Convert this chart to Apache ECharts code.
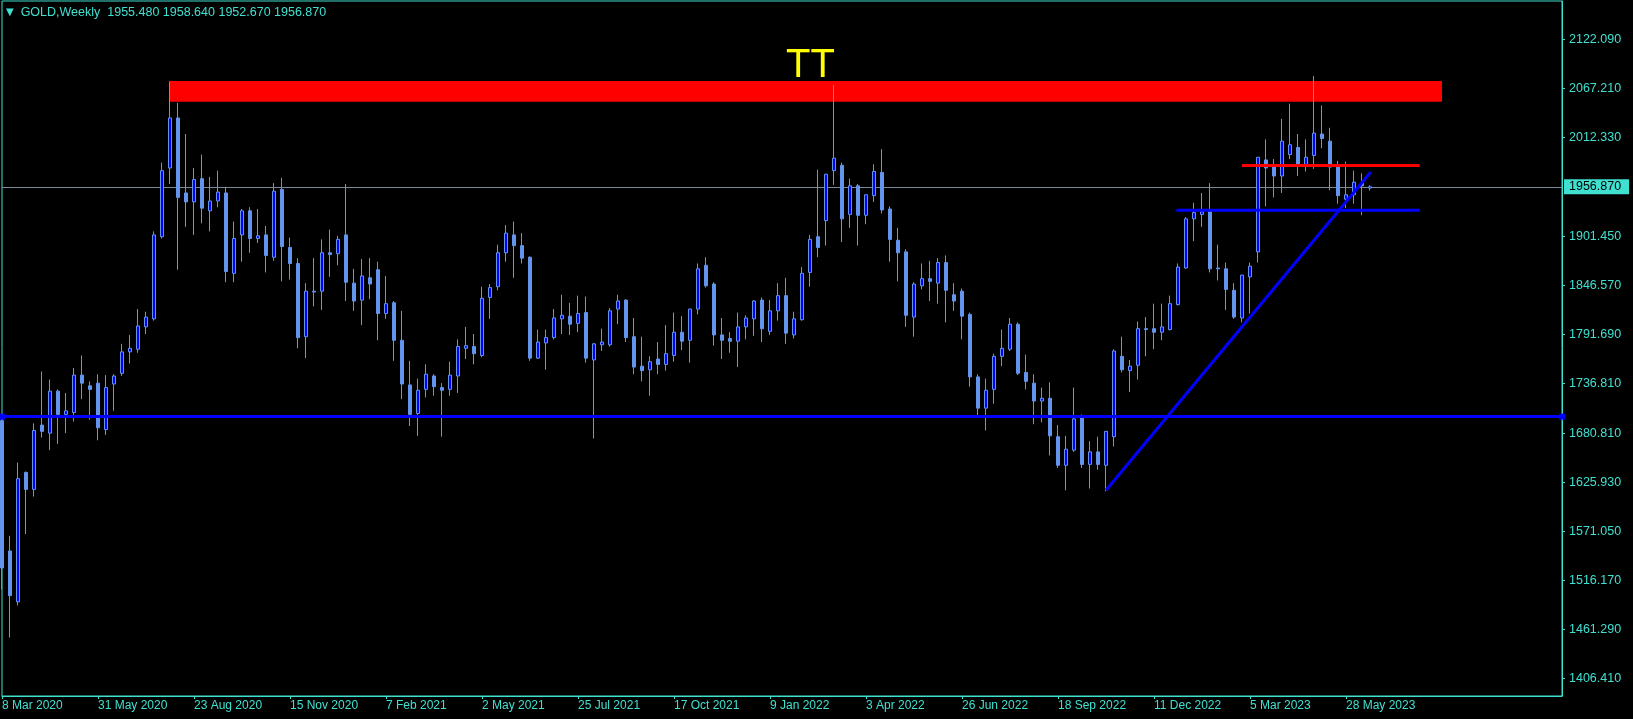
<!DOCTYPE html>
<html>
<head>
<meta charset="utf-8">
<title>GOLD, Weekly</title>
<script src="https://cdn.jsdelivr.net/npm/echarts@6/dist/echarts.min.js"></script>
<style>
  html, body { margin: 0; padding: 0; background: #000; }
  #chart { width: 1633px; height: 719px; }
</style>
</head>
<body>
<div id="chart"></div>
<script>
// weekly bars, week of 8 Mar 2020 .. week of 18 Jun 2023 (172 bars)
var opens = [
  1695,1549,1492,1637,1618,1690,1681,1728,1702,1704,
  1746,1734,1737,1685,1736,1748,1772,1775,1800,1809,
  1901,1978,2034,1950,1940,1966,1930,1941,1950,1860,
  1903,1930,1899,1903,1878,1954,1889,1871,1789,1840,
  1840,1883,1882,1903,1849,1830,1855,1864,1815,1827,
  1785,1735,1703,1730,1745,1732,1730,1745,1776,1778,
  1768,1833,1845,1883,1903,1891,1878,1765,1782,1788,
  1809,1812,1804,1816,1763,1780,1780,1820,1830,1789,
  1756,1752,1764,1758,1768,1794,1785,1820,1869,1848,
  1791,1787,1784,1800,1809,1830,1795,1818,1835,1791,
  1808,1861,1901,1919,1975,1981,1926,1958,1925,1947,
  1973,1932,1897,1884,1811,1846,1854,1849,1872,1836,
  1840,1814,1744,1709,1730,1767,1775,1803,1749,1737,
  1717,1720,1677,1645,1662,1698,1646,1660,1645,1677,
  1767,1751,1757,1798,1798,1794,1797,1825,1866,1921,
  1926,1929,1866,1865,1841,1810,1856,1884,1987,1979,
  1969,1993,2001,1982,1992,2016,2008,1979,1943,1948,
  1961,1955.48
];
var highs = [
  1703,1566,1648,1638,1692,1750,1741,1730,1726,1754,
  1768,1739,1747,1746,1747,1781,1791,1820,1817,1907,
  1984,2075,2051,2016,1978,1993,1968,1975,1957,1918,
  1932,1934,1932,1913,1961,1967,1900,1877,1849,1877,
  1898,1909,1902,1960,1865,1876,1877,1873,1857,1829,
  1818,1762,1742,1758,1747,1737,1761,1786,1800,1792,
  1845,1848,1892,1914,1918,1905,1879,1797,1797,1820,
  1836,1827,1835,1834,1782,1798,1821,1836,1831,1810,
  1789,1767,1783,1802,1816,1812,1820,1871,1878,1850,
  1810,1794,1816,1813,1830,1833,1830,1849,1855,1817,
  1867,1903,1976,1971,2071,1984,1966,1960,1948,1982,
  1999,1935,1911,1887,1850,1871,1874,1877,1880,1849,
  1843,1816,1747,1742,1770,1797,1810,1805,1769,1747,
  1732,1738,1690,1678,1732,1702,1672,1677,1683,1775,
  1789,1763,1806,1811,1826,1826,1835,1871,1923,1939,
  1950,1961,1892,1872,1849,1858,1872,1990,2010,1988,
  2033,2050,2016,2010,2081,2048,2023,1986,1985,1975,
  1972,1958.64
];
var lows = [
  1506,1452,1488,1568,1610,1676,1662,1669,1681,1694,
  1719,1696,1673,1679,1706,1745,1759,1771,1792,1807,
  1899,1960,1864,1912,1903,1916,1907,1934,1850,1850,
  1873,1883,1894,1861,1874,1851,1853,1776,1765,1823,
  1819,1856,1869,1829,1818,1802,1831,1785,1809,1762,
  1719,1689,1678,1721,1723,1677,1723,1726,1764,1758,
  1766,1809,1841,1873,1855,1871,1762,1764,1752,1786,
  1792,1791,1794,1760,1675,1773,1778,1803,1783,1747,
  1739,1723,1747,1751,1761,1774,1760,1814,1844,1779,
  1764,1771,1755,1786,1790,1783,1791,1807,1781,1787,
  1807,1845,1878,1891,1959,1895,1911,1891,1915,1940,
  1927,1873,1851,1800,1789,1842,1829,1826,1805,1818,
  1786,1733,1699,1684,1714,1756,1773,1746,1730,1691,
  1693,1656,1642,1617,1660,1642,1619,1640,1616,1666,
  1749,1727,1741,1767,1775,1785,1796,1824,1865,1896,
  1912,1861,1852,1819,1809,1805,1815,1872,1935,1945,
  1950,1988,1969,1974,1977,2000,1953,1938,1933,1938,
  1925,1952.67
];
var closes = [
  1530,1499,1630,1618,1684,1683,1728,1702,1706,1746,
  1737,1730,1687,1732,1745,1772,1776,1801,1811,1903,
  1975,2034,1945,1940,1965,1933,1941,1951,1862,1899,
  1930,1899,1902,1880,1952,1890,1871,1788,1840,1839,
  1883,1881,1898,1850,1829,1857,1848,1815,1826,1785,
  1736,1702,1729,1747,1733,1729,1746,1778,1779,1770,
  1832,1844,1883,1905,1891,1877,1765,1783,1788,1810,
  1813,1803,1815,1765,1781,1783,1818,1829,1788,1755,
  1751,1761,1758,1770,1794,1784,1820,1865,1846,1791,
  1785,1784,1800,1810,1829,1798,1818,1835,1793,1809,
  1860,1898,1889,1971,1989,1921,1958,1925,1948,1974,
  1931,1898,1883,1813,1848,1854,1851,1872,1841,1829,
  1812,1744,1709,1729,1767,1776,1803,1748,1739,1717,
  1720,1678,1645,1663,1697,1646,1660,1646,1683,1773,
  1752,1756,1798,1797,1794,1800,1826,1867,1921,1928,
  1929,1865,1865,1842,1811,1858,1868,1990,1978,1969,
  2008,2004,1981,1990,2017,2011,1979,1947,1948,1962,
  1958,1956.87
];

var dateTicks = ['8 Mar 2020', '31 May 2020', '23 Aug 2020', '15 Nov 2020', '7 Feb 2021',
  '2 May 2021', '25 Jul 2021', '17 Oct 2021', '9 Jan 2022', '3 Apr 2022', '26 Jun 2022',
  '18 Sep 2022', '11 Dec 2022', '5 Mar 2023', '28 May 2023'];
var priceTicks = [2122.09, 2067.21, 2012.33, 1901.45, 1846.57, 1791.69, 1736.81,
  1680.81, 1625.93, 1571.05, 1516.17, 1461.29, 1406.41];

var lastBar = [1955.48, 1958.64, 1952.67, 1956.87];   // O H L C shown in the header
var lastPrice = 1956.87;
var supportLevel = 1699.5;                            // long blue horizontal
var zoneBox = [[21, 2075.4], [180, 2052.2]];           // red resistance zone
var trendLine = [[138, 1617], [171.1, 1973.5]];
var supportSeg = [[146.8, 1930.6], [177.2, 1930.6]];
var resistSeg = [[155, 1980.7], [177.2, 1980.7]];
var ttMark = [101.06, 2092.0];

var SLOTS = 196;  // bars plus empty space on the right
var cyan = '#40E0D0';
var font = 'Liberation Sans';

var weeks = [];
var t0 = Date.UTC(2020, 2, 8);
for (var i = 0; i < SLOTS; i++) {
  weeks.push(new Date(t0 + i * 7 * 864e5).toISOString().slice(0, 10));
}
var candles = [];
for (var i = 0; i < opens.length; i++) {
  candles.push([opens[i], closes[i], lows[i], highs[i]]);
}
function onTick(idx) { return idx % 12 === 0 && idx < opens.length; }

var chart = echarts.init(document.getElementById('chart'));
var option = {
  backgroundColor: '#000000',
  animation: false,
  textStyle: { fontFamily: font },
  title: {
    text: '{tri|▼}  GOLD,Weekly  ' + lastBar.map(function (v) { return v.toFixed(3); }).join(' '),
    left: 6,
    top: 6,
    padding: 0,
    textStyle: {
      color: cyan, fontSize: 12.5, fontWeight: 'normal', fontFamily: font,
      rich: { tri: { fontSize: 10, color: cyan, fontFamily: 'DejaVu Sans' } }
    }
  },
  grid: {
    left: 2, top: 1, width: 1560, height: 695,
    show: true, borderColor: cyan, borderWidth: 1,
    outerBoundsMode: 'none'
  },
  xAxis: [
    {
      type: 'category',
      data: weeks,
      boundaryGap: false,
      axisLine: { show: true, onZero: false, lineStyle: { color: cyan, width: 1 } },
      axisTick: { show: true, inside: false, length: 3, interval: onTick, lineStyle: { color: cyan } },
      axisLabel: {
        interval: onTick,
        color: cyan, fontSize: 12, fontFamily: font,
        align: 'left', margin: 4,
        formatter: function (v, idx) { return idx % 12 === 0 ? (dateTicks[idx / 12] || '') : ''; }
      },
      splitLine: { show: false }
    },
    { type: 'value', min: 0, max: SLOTS - 1, show: false, axisLine: { onZero: false } }
  ],
  yAxis: {
    type: 'value',
    position: 'right',
    min: 1386.59,
    max: 2164.99,
    splitLine: { show: false },
    axisLine: { show: true, onZero: false, lineStyle: { color: cyan } },
    axisTick: { show: true, inside: false, length: 3, customValues: priceTicks, lineStyle: { color: cyan } },
    axisLabel: {
      customValues: priceTicks,
      color: cyan, fontSize: 12.5, fontFamily: font, margin: 7,
      formatter: function (v) { return v.toFixed(3); }
    }
  },
  series: [
    {
      name: 'GOLD',
      type: 'candlestick',
      xAxisIndex: 0,
      yAxisIndex: 0,
      data: candles,
      barWidth: 4,
      z: 3,
      itemStyle: {
        color: '#0000FF',
        color0: '#6495ED',
        borderColor: '#6495ED',
        borderColor0: '#6495ED',
        borderColorDoji: '#6495ED',
        borderWidth: 1
      }
    },
    {
      name: 'resistance',
      type: 'line',
      xAxisIndex: 1,
      yAxisIndex: 0,
      data: resistSeg,
      symbol: 'none',
      clip: false,
      z: 4,
      lineStyle: { color: '#FF0000', width: 3 },
      markArea: {
        z: 1,
        silent: true,
        itemStyle: { color: '#FF0000', opacity: 1 },
        data: [[{ coord: zoneBox[0] }, { coord: zoneBox[1] }]]
      },
      markLine: {
        z: 1,
        silent: true,
        symbol: 'none',
        lineStyle: { color: '#778899', width: 1, type: 'solid' },
        label: {
          show: true, position: 'end', distance: 2,
          formatter: lastPrice.toFixed(3),
          color: '#000', backgroundColor: cyan,
          padding: [1, 8, 1, 5], fontSize: 12.5, fontFamily: font
        },
        data: [{ yAxis: lastPrice }]
      }
    },
    {
      name: 'support',
      type: 'line',
      xAxisIndex: 1,
      yAxisIndex: 0,
      data: supportSeg,
      symbol: 'none',
      z: 4,
      lineStyle: { color: '#0000FF', width: 3 }
    },
    {
      name: 'trend',
      type: 'line',
      xAxisIndex: 1,
      yAxisIndex: 0,
      data: trendLine,
      symbol: 'none',
      z: 4,
      lineStyle: { color: '#0000FF', width: 3 },
      markLine: {
        z: 5,
        silent: true,
        symbol: ['rect', 'rect'],
        symbolSize: 6,
        lineStyle: { color: '#0000FF', width: 3, type: 'solid' },
        label: { show: false },
        data: [{ yAxis: supportLevel }]
      },
      markPoint: {
        silent: true,
        symbol: 'rect',
        symbolSize: 1,
        itemStyle: { color: 'rgba(0,0,0,0)' },
        label: {
          show: true, position: 'inside', formatter: 'TT',
          color: '#FFFF00', fontSize: 40, fontFamily: font,
          textBorderWidth: 0
        },
        data: [{ coord: ttMark }]
      }
    }
  ]
};
chart.setOption(option);
</script>
</body>
</html>
